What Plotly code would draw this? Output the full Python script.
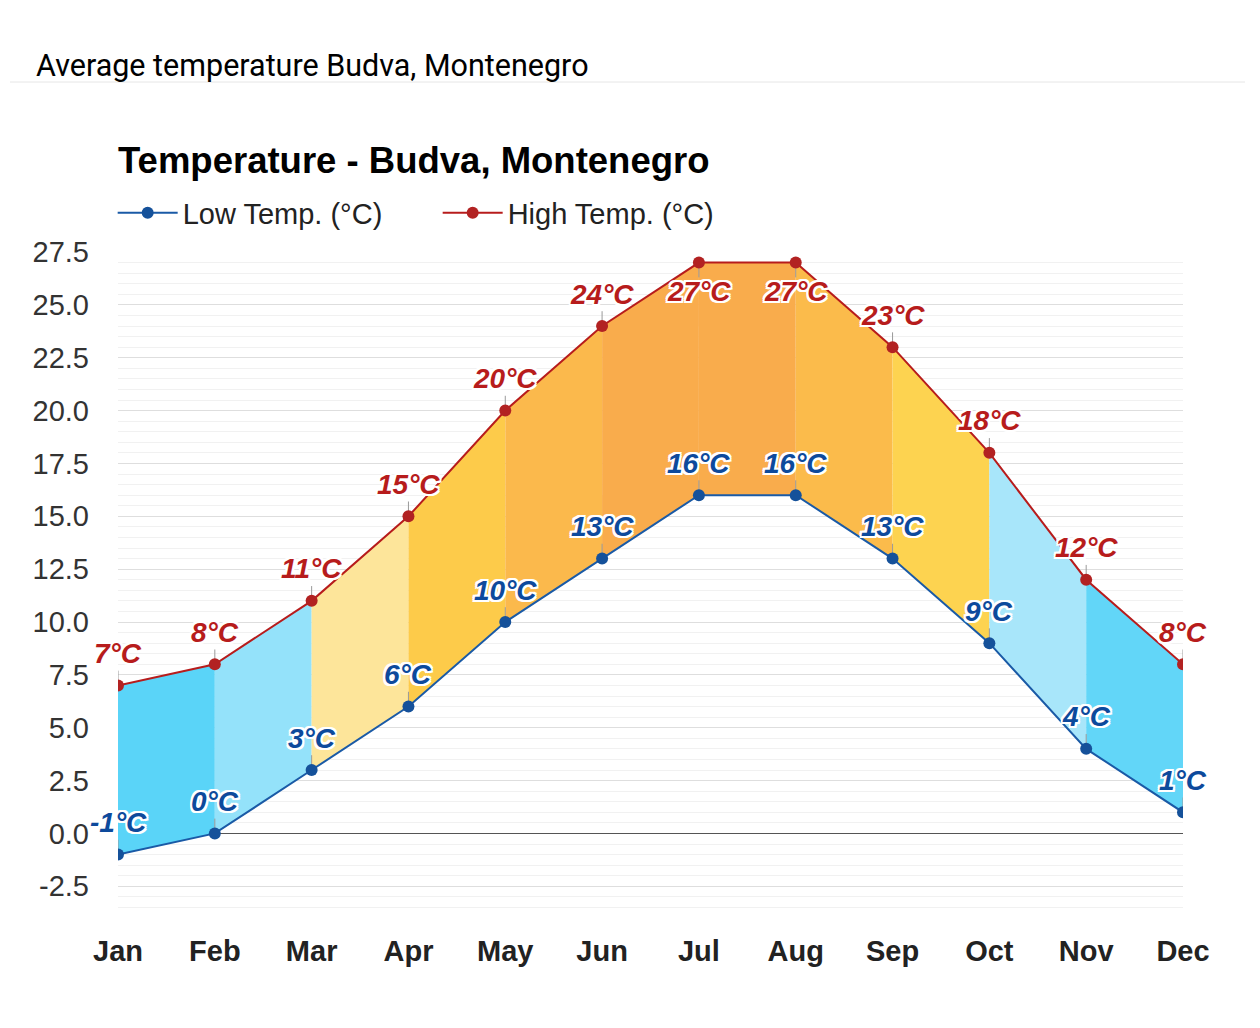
import plotly.graph_objects as go

months = ["Jan", "Feb", "Mar", "Apr", "May", "Jun", "Jul", "Aug", "Sep", "Oct", "Nov", "Dec"]
low_temp = [-1, 0, 3, 6, 10, 13, 16, 16, 13, 9, 4, 1]
high_temp = [7, 8, 11, 15, 20, 24, 27, 27, 23, 18, 12, 8]
segment_colors = ["#5AD4F8", "#94E2FA", "#FDE59A", "#FDCB4A", "#FBB94C", "#F9AC4C",
                  "#F9AC4C", "#FBBB4B", "#FDD350", "#A8E6FA", "#62D6F8"]
y_tick_vals = [-2.5, 0.0, 2.5, 5.0, 7.5, 10.0, 12.5, 15.0, 17.5, 20.0, 22.5, 25.0, 27.5]
y_tick_text = ["-2.5", "0.0", "2.5", "5.0", "7.5", "10.0", "12.5", "15.0", "17.5", "20.0", "22.5", "25.0", "27.5"]
high_label_below = ["Jul", "Aug"]

x_idx = list(range(len(months)))
FONT = "Liberation Sans, Arial, sans-serif"
RED = "#B71C1C"
BLUE = "#0D4A9C"
OUTLINE = ("2px 2px 0 #fff, -2px -2px 0 #fff, 2px -2px 0 #fff, -2px 2px 0 #fff,"
           " 0 2px 0 #fff, 0 -2px 0 #fff, 2px 0 0 #fff, -2px 0 0 #fff")

# page body has an 8px offset: plot area target 118..1183 x, 252..918 y in the window
PLOT_H = 666

fig = go.Figure()

for i in range(len(months) - 1):
    fig.add_trace(go.Scatter(
        x=[x_idx[i], x_idx[i + 1], x_idx[i + 1], x_idx[i], x_idx[i]],
        y=[low_temp[i], low_temp[i + 1], high_temp[i + 1], high_temp[i], low_temp[i]],
        mode="lines", fill="toself", fillcolor=segment_colors[i],
        line=dict(width=0), showlegend=False, hoverinfo="skip"))

low_up = [0.7] * len(months)
fig.add_trace(go.Scatter(
    x=x_idx, y=low_temp, mode="lines+markers", name="Low Temp. (°C)",
    line=dict(color="#1A5AA6", width=2),
    marker=dict(color="#15519A", size=12),
    error_y=dict(type="data", symmetric=False, array=low_up, arrayminus=[0] * len(months),
                 color="#9a9a9a", thickness=1, width=0)))

high_up = [0 if m in high_label_below else 0.7 for m in months]
high_dn = [0.7 if m in high_label_below else 0 for m in months]
fig.add_trace(go.Scatter(
    x=x_idx, y=high_temp, mode="lines+markers", name="High Temp. (°C)",
    line=dict(color="#B71C1C", width=2),
    marker=dict(color="#B22222", size=12),
    error_y=dict(type="data", symmetric=False, array=high_up, arrayminus=high_dn,
                 color="#9a9a9a", thickness=1, width=0)))

annotations = []
for i, m in enumerate(months):
    annotations.append(dict(
        x=x_idx[i], y=high_temp[i], xref="x", yref="y", text=f"{high_temp[i]}°C",
        showarrow=False, yshift=-29 if m in high_label_below else 32,
        font=dict(family=FONT, size=28, color=RED, weight="bold", style="italic", shadow=OUTLINE)))
    annotations.append(dict(
        x=x_idx[i], y=low_temp[i], xref="x", yref="y", text=f"{low_temp[i]}°C",
        showarrow=False, yshift=32,
        font=dict(family=FONT, size=28, color=BLUE, weight="bold", style="italic", shadow=OUTLINE)))

# header and chart title
annotations.append(dict(
    text="Average temperature Budva, Montenegro", xref="paper", yref="paper",
    x=(34 - 118) / 1065, y=(918 - 65) / PLOT_H, xanchor="left", yanchor="middle",
    showarrow=False, font=dict(family="Roboto, sans-serif", size=30.5, color="#000")))
annotations.append(dict(
    text="<b>Temperature - Budva, Montenegro</b>", xref="paper", yref="paper",
    x=-0.002, y=(918 - 160) / PLOT_H, xanchor="left", yanchor="middle",
    showarrow=False, font=dict(family=FONT, size=36.5, color="#000")))

fig.update_layout(
    width=1252, height=1020,
    margin=dict(l=110, r=77, t=244, b=110),
    paper_bgcolor="#ffffff", plot_bgcolor="#ffffff",
    annotations=annotations,
    shapes=[dict(type="line", xref="paper", yref="paper",
                 x0=(10 - 118) / 1065, x1=(1245 - 118) / 1065,
                 y0=(918 - 82) / PLOT_H, y1=(918 - 82) / PLOT_H,
                 line=dict(color="#e6e6e6", width=1))],
    legend=dict(orientation="h", x=-0.005, y=(918 - 213) / PLOT_H, xanchor="left", yanchor="middle",
                font=dict(family=FONT, size=29, color="#222"), itemwidth=60,
                entrywidth=250, entrywidthmode="pixels", bgcolor="rgba(0,0,0,0)"),
    showlegend=True,
    xaxis=dict(range=[0, 11], tickvals=x_idx, ticktext=months, showgrid=False, zeroline=False,
               showline=False, ticks="", ticklabelstandoff=13,
               tickfont=dict(family=FONT, size=29, color="#222", weight="bold")),
    yaxis=dict(range=[-4.0, 27.5], tickvals=y_tick_vals, ticktext=y_tick_text,
               showgrid=True, gridcolor="#dedede", gridwidth=1,
               zeroline=True, zerolinecolor="#555", zerolinewidth=1,
               showline=False, ticks="", ticklabelstandoff=28,
               tickfont=dict(family=FONT, size=29, color="#333"),
               minor=dict(dtick=0.5, tick0=0, showgrid=True, gridcolor="#f1f1f1", gridwidth=1)),
    hovermode=False,
)

fig.write_html("out.html")
